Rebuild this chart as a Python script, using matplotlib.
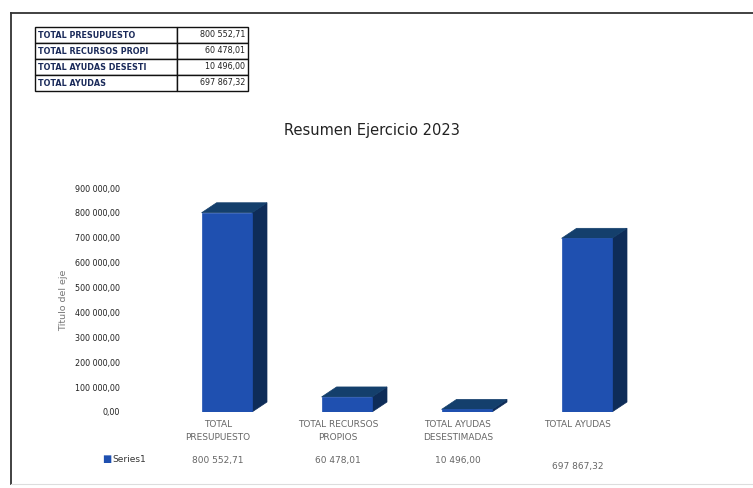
import matplotlib
matplotlib.use("Agg")
import matplotlib.pyplot as plt
from matplotlib.patches import Polygon
from matplotlib.lines import Line2D

categories = ["TOTAL\nPRESUPUESTO", "TOTAL RECURSOS\nPROPIOS", "TOTAL AYUDAS\nDESESTIMADAS", "TOTAL AYUDAS"]
values = [800552.71, 60478.01, 10496.00, 697867.32]
value_labels = ["800 552,71", "60 478,01", "10 496,00", "697 867,32"]
table_labels = ["TOTAL PRESUPUESTO", "TOTAL RECURSOS PROPI", "TOTAL AYUDAS DESESTI", "TOTAL AYUDAS"]
yticks = [0, 100000, 200000, 300000, 400000, 500000, 600000, 700000, 800000, 900000]
ytick_labels = ["0,00", "100 000,00", "200 000,00", "300 000,00", "400 000,00",
                "500 000,00", "600 000,00", "700 000,00", "800 000,00", "900 000,00"]
series_name = "Series1"
title = "Resumen Ejercicio 2023"

W, H = 753, 488
fig = plt.figure(figsize=(W / 100, H / 100), dpi=100)
fig.patch.set_facecolor("white")

def fx(px):
    return px / W

def fy(py):
    return 1 - py / H

# outer frame
fig.add_artist(Line2D([fx(11), fx(11)], [fy(13), fy(484)], color="#333333", lw=1.3))
fig.add_artist(Line2D([fx(11), fx(753)], [fy(13), fy(13)], color="#333333", lw=1.3))
fig.add_artist(Line2D([fx(11), fx(753)], [fy(484), fy(484)], color="#dddddd", lw=0.8))

# main axes
ax_left, ax_right = 162, 642
ax_top, ax_bottom = 188, 412
ax = fig.add_axes([fx(ax_left), fy(ax_bottom), fx(ax_right - ax_left), (ax_bottom - ax_top) / H])
ax.set_xlim(-0.5, len(categories) - 0.5)
ax.set_ylim(0, 900000)
for s in ax.spines.values():
    s.set_visible(False)
ax.set_xticks([])
ax.set_yticks(yticks)
ax.set_yticklabels(ytick_labels, fontsize=5.8, color="#222222")
ax.tick_params(axis="y", length=0, pad=30)
ax.set_ylabel("Título del eje", fontsize=6.8, color="#777777")
ax.yaxis.set_label_coords(-0.195, 0.5)

# bars with pseudo-3D depth
bar_w = 0.42
shift = 0.04
dx = 15 / 120.0                         # depth offset in category units
dy = 10 * 900000 / (ax_bottom - ax_top)  # depth offset in value units
front = "#1f50b0"
side = "#0e2c58"
top = "#143f6c"
for i, v in enumerate(values):
    x0 = i + shift - bar_w / 2
    x1 = i + shift + bar_w / 2
    ax.bar(i + shift, v, width=bar_w, color=front, edgecolor=front, lw=0.5, zorder=3)
    ax.add_patch(Polygon([[x1, 0], [x1 + dx, dy], [x1 + dx, v + dy], [x1, v]],
                         closed=True, facecolor=side, edgecolor=side, lw=0.5, zorder=2))
    ax.add_patch(Polygon([[x0, v], [x0 + dx, v + dy], [x1 + dx, v + dy], [x1, v]],
                         closed=True, facecolor=top, edgecolor=top, lw=0.5, zorder=2))

# category labels and data row
for i, (c, vl) in enumerate(zip(categories, value_labels)):
    xpos = ax_left + 60 + 120 * i - 4
    fig.text(fx(xpos), fy(420), c, ha="center", va="top", fontsize=6.5,
             color="#666666", linespacing=1.6)
    ypos = 460 if i < 3 else 466
    fig.text(fx(xpos), fy(ypos), vl, ha="center", va="center", fontsize=6.5, color="#666666")

# legend key
fig.text(fx(102), fy(459), "■", ha="left", va="center", fontsize=7, color=front)
fig.text(fx(112), fy(459), series_name, ha="left", va="center", fontsize=6.5, color="#333333")

# title
fig.text(fx(372), fy(131), title, ha="center", va="center", fontsize=10.5, color="#222222")

# summary table
tax = fig.add_axes([fx(35), fy(91), fx(213), 64 / H])
tax.axis("off")
tbl = tax.table(cellText=[[a, b] for a, b in zip(table_labels, value_labels)],
                colWidths=[142 / 213, 71 / 213], cellLoc="left", loc="center",
                bbox=[0, 0, 1, 1])
tbl.auto_set_font_size(False)
for (r, c), cell in tbl.get_celld().items():
    cell.set_linewidth(1.0)
    cell.set_edgecolor("#111111")
    cell.PAD = 0.02
    t = cell.get_text()
    t.set_fontsize(5.8)
    if c == 0:
        t.set_fontweight("bold")
        t.set_color("#1a2a5a")
    else:
        t.set_horizontalalignment("right")
        t.set_color("#222222")
        cell.PAD = 0.04

fig.savefig("out.png", dpi=100, facecolor="white")
